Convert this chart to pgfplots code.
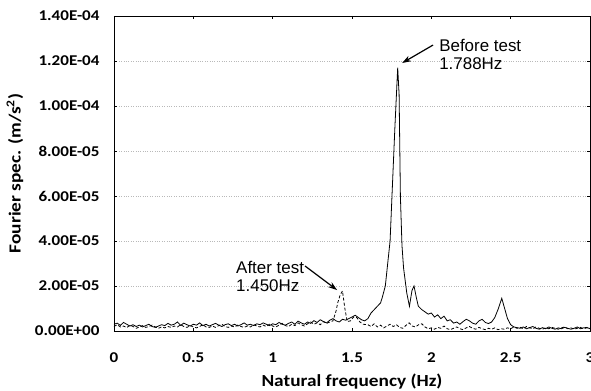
\documentclass[border=0pt]{standalone}
\usepackage{fontspec}
\setmainfont{Carlito}
\newfontfamily\stretchfont[FakeStretch=1.14]{Carlito}
\newfontfamily\arialfont{Liberation Sans}
\usepackage{pgfplots}
\pgfplotsset{compat=1.18}
\usetikzlibrary{arrows.meta}

\pgfplotstableread{
f y
0.00 0.30e-5
0.02 0.35e-5
0.04 0.25e-5
0.06 0.38e-5
0.08 0.30e-5
0.10 0.22e-5
0.12 0.28e-5
0.14 0.20e-5
0.16 0.26e-5
0.18 0.18e-5
0.20 0.24e-5
0.22 0.30e-5
0.24 0.20e-5
0.26 0.16e-5
0.28 0.22e-5
0.30 0.28e-5
0.32 0.24e-5
0.34 0.34e-5
0.36 0.26e-5
0.38 0.30e-5
0.40 0.40e-5
0.42 0.25e-5
0.44 0.35e-5
0.46 0.28e-5
0.48 0.22e-5
0.50 0.30e-5
0.52 0.26e-5
0.54 0.36e-5
0.56 0.24e-5
0.58 0.30e-5
0.60 0.22e-5
0.62 0.28e-5
0.64 0.34e-5
0.66 0.26e-5
0.68 0.20e-5
0.70 0.28e-5
0.72 0.32e-5
0.74 0.24e-5
0.76 0.30e-5
0.78 0.22e-5
0.80 0.28e-5
0.82 0.36e-5
0.84 0.26e-5
0.86 0.30e-5
0.88 0.24e-5
0.90 0.32e-5
0.92 0.28e-5
0.94 0.36e-5
0.96 0.30e-5
0.98 0.24e-5
1.00 0.32e-5
1.02 0.28e-5
1.04 0.38e-5
1.06 0.30e-5
1.08 0.26e-5
1.10 0.34e-5
1.12 0.40e-5
1.14 0.30e-5
1.16 0.44e-5
1.18 0.36e-5
1.20 0.30e-5
1.22 0.40e-5
1.24 0.34e-5
1.26 0.46e-5
1.28 0.38e-5
1.30 0.50e-5
1.32 0.42e-5
1.34 0.36e-5
1.36 0.48e-5
1.38 0.55e-5
1.40 0.45e-5
1.42 0.40e-5
1.44 0.52e-5
1.46 0.48e-5
1.48 0.55e-5
1.50 0.62e-5
1.52 0.70e-5
1.54 0.60e-5
1.56 0.50e-5
1.58 0.45e-5
1.60 0.55e-5
1.62 0.80e-5
1.64 0.95e-5
1.66 1.10e-5
1.68 1.25e-5
1.69 1.47e-5
1.71 2.00e-5
1.74 4.00e-5
1.755 6.50e-5
1.77 9.00e-5
1.788 11.70e-5
1.797 10.50e-5
1.805 6.00e-5
1.815 3.80e-5
1.825 2.80e-5
1.845 1.70e-5
1.862 1.10e-5
1.878 1.80e-5
1.891 2.00e-5
1.905 1.50e-5
1.918 1.10e-5
1.94 0.95e-5
1.96 0.85e-5
1.98 0.75e-5
2.00 0.80e-5
2.02 0.62e-5
2.04 0.72e-5
2.06 0.55e-5
2.08 0.66e-5
2.10 0.45e-5
2.12 0.50e-5
2.14 0.35e-5
2.16 0.40e-5
2.18 0.30e-5
2.20 0.42e-5
2.22 0.52e-5
2.24 0.45e-5
2.26 0.35e-5
2.28 0.30e-5
2.30 0.45e-5
2.32 0.52e-5
2.34 0.38e-5
2.36 0.33e-5
2.38 0.40e-5
2.40 0.60e-5
2.42 0.95e-5
2.444 1.45e-5
2.46 1.05e-5
2.48 0.55e-5
2.50 0.28e-5
2.52 0.18e-5
2.54 0.15e-5
2.56 0.12e-5
2.58 0.18e-5
2.60 0.10e-5
2.62 0.15e-5
2.64 0.20e-5
2.66 0.12e-5
2.68 0.08e-5
2.70 0.15e-5
2.72 0.10e-5
2.74 0.18e-5
2.76 0.12e-5
2.78 0.08e-5
2.80 0.14e-5
2.82 0.10e-5
2.84 0.16e-5
2.86 0.12e-5
2.88 0.08e-5
2.90 0.12e-5
2.92 0.18e-5
2.94 0.10e-5
2.96 0.14e-5
2.98 0.16e-5
3.00 0.10e-5
}\before

\pgfplotstableread{
f y
0.00 0.20e-5
0.02 0.28e-5
0.04 0.18e-5
0.06 0.22e-5
0.08 0.15e-5
0.10 0.25e-5
0.12 0.20e-5
0.14 0.12e-5
0.16 0.18e-5
0.18 0.24e-5
0.20 0.16e-5
0.22 0.20e-5
0.24 0.26e-5
0.26 0.18e-5
0.28 0.12e-5
0.30 0.18e-5
0.32 0.14e-5
0.34 0.20e-5
0.36 0.16e-5
0.38 0.22e-5
0.40 0.18e-5
0.42 0.28e-5
0.44 0.20e-5
0.46 0.16e-5
0.48 0.24e-5
0.50 0.18e-5
0.52 0.14e-5
0.54 0.20e-5
0.56 0.28e-5
0.58 0.18e-5
0.60 0.16e-5
0.62 0.22e-5
0.64 0.16e-5
0.66 0.24e-5
0.68 0.30e-5
0.70 0.20e-5
0.72 0.16e-5
0.74 0.22e-5
0.76 0.18e-5
0.78 0.26e-5
0.80 0.20e-5
0.82 0.16e-5
0.84 0.22e-5
0.86 0.18e-5
0.88 0.28e-5
0.90 0.22e-5
0.92 0.18e-5
0.94 0.26e-5
0.96 0.20e-5
0.98 0.30e-5
1.00 0.22e-5
1.02 0.18e-5
1.04 0.26e-5
1.06 0.34e-5
1.08 0.24e-5
1.10 0.20e-5
1.12 0.30e-5
1.14 0.24e-5
1.16 0.36e-5
1.18 0.28e-5
1.20 0.22e-5
1.22 0.32e-5
1.24 0.40e-5
1.26 0.30e-5
1.28 0.36e-5
1.30 0.28e-5
1.32 0.42e-5
1.34 0.34e-5
1.36 0.40e-5
1.38 0.45e-5
1.40 0.90e-5
1.41 1.25e-5
1.425 1.60e-5
1.44 1.78e-5
1.455 1.00e-5
1.47 0.42e-5
1.49 0.45e-5
1.51 0.62e-5
1.53 0.60e-5
1.55 0.40e-5
1.57 0.30e-5
1.60 0.28e-5
1.62 0.20e-5
1.64 0.32e-5
1.66 0.18e-5
1.68 0.26e-5
1.70 0.14e-5
1.72 0.22e-5
1.74 0.30e-5
1.76 0.20e-5
1.78 0.28e-5
1.80 0.16e-5
1.82 0.12e-5
1.84 0.25e-5
1.86 0.36e-5
1.88 0.22e-5
1.90 0.18e-5
1.92 0.28e-5
1.94 0.32e-5
1.96 0.18e-5
1.98 0.10e-5
2.00 0.14e-5
2.02 0.08e-5
2.04 0.16e-5
2.06 0.12e-5
2.08 0.22e-5
2.10 0.10e-5
2.12 0.06e-5
2.14 0.12e-5
2.16 0.18e-5
2.18 0.10e-5
2.20 0.06e-5
2.22 0.14e-5
2.24 0.20e-5
2.26 0.12e-5
2.28 0.08e-5
2.30 0.16e-5
2.32 0.10e-5
2.34 0.06e-5
2.36 0.12e-5
2.38 0.08e-5
2.40 0.14e-5
2.42 0.06e-5
2.44 0.10e-5
2.46 0.08e-5
2.48 0.14e-5
2.50 0.10e-5
2.52 0.18e-5
2.54 0.12e-5
2.56 0.16e-5
2.58 0.10e-5
2.60 0.20e-5
2.62 0.14e-5
2.64 0.10e-5
2.66 0.18e-5
2.68 0.12e-5
2.70 0.08e-5
2.72 0.14e-5
2.74 0.10e-5
2.76 0.16e-5
2.78 0.12e-5
2.80 0.08e-5
2.82 0.14e-5
2.84 0.18e-5
2.86 0.10e-5
2.88 0.14e-5
2.90 0.08e-5
2.92 0.12e-5
2.94 0.16e-5
2.96 0.10e-5
2.98 0.14e-5
3.00 0.12e-5
}\after

\begin{document}
\begin{tikzpicture}
\begin{axis}[
  at={(0,0)}, anchor=south west,
  scale only axis,
  width=476bp, height=315bp,
  xmin=0, xmax=3, ymin=0, ymax=1.4e-4,
  xtick={0,0.5,1,1.5,2,2.5,3},
  xticklabels={0,0.5,1,1.5,2,2.5,3},
  ytick={0,2e-5,4e-5,6e-5,8e-5,1e-4,1.2e-4,1.4e-4},
  yticklabels={0.00E+00,2.00E-05,4.00E-05,6.00E-05,8.00E-05,1.00E-04,1.20E-04,1.40E-04},
  scaled ticks=false,
  tick align=inside,
  major tick length=3bp,
  tick style={black, line width=0.5pt},
  axis line style={black, line width=0.7pt},
  ymajorgrids,
  major grid style={gray!55, dotted, line width=0.6pt},
  ticklabel style={font=\stretchfont\bfseries\fontsize{15}{15}\selectfont},
  xticklabel style={yshift=-18bp},
  yticklabel style={xshift=-11bp},
  xlabel={Natural frequency (Hz)},
  ylabel={Fourier spec. (m/s\textsuperscript{2})},
  label style={font=\stretchfont\bfseries\fontsize{17}{17}\selectfont},
  xlabel style={at={(axis description cs:0.5,-0.159)}, anchor=center},
  ylabel style={at={(axis description cs:-0.208,0.5)}, anchor=center},
  clip=true,
]
\addplot[black, line width=0.8pt, densely dashed] table[x=f,y=y] {\after};
\addplot[black, line width=0.8pt] table[x=f,y=y] {\before};

\node[anchor=west, align=left, inner sep=0pt, font=\arialfont\fontsize{17}{18}\selectfont]
  at (axis cs:2.049,1.231e-4) {Before test\\1.788Hz};
\draw[-{Stealth[length=9bp,width=6bp]}, line width=1.2bp] (axis cs:2.011,1.271e-4) -- (axis cs:1.816,1.191e-4);

\node[anchor=west, align=left, inner sep=0pt, font=\arialfont\fontsize{17}{18}\selectfont]
  at (axis cs:0.769,2.42e-5) {After test\\1.450Hz};
\draw[-{Stealth[length=9bp,width=6bp]}, line width=1.2bp] (axis cs:1.204,2.89e-5) -- (axis cs:1.406,1.82e-5);
\end{axis}
\pgfresetboundingbox
\path[use as bounding box] (-114bp,-60bp) rectangle (477bp,331bp);
\end{tikzpicture}
\end{document}
